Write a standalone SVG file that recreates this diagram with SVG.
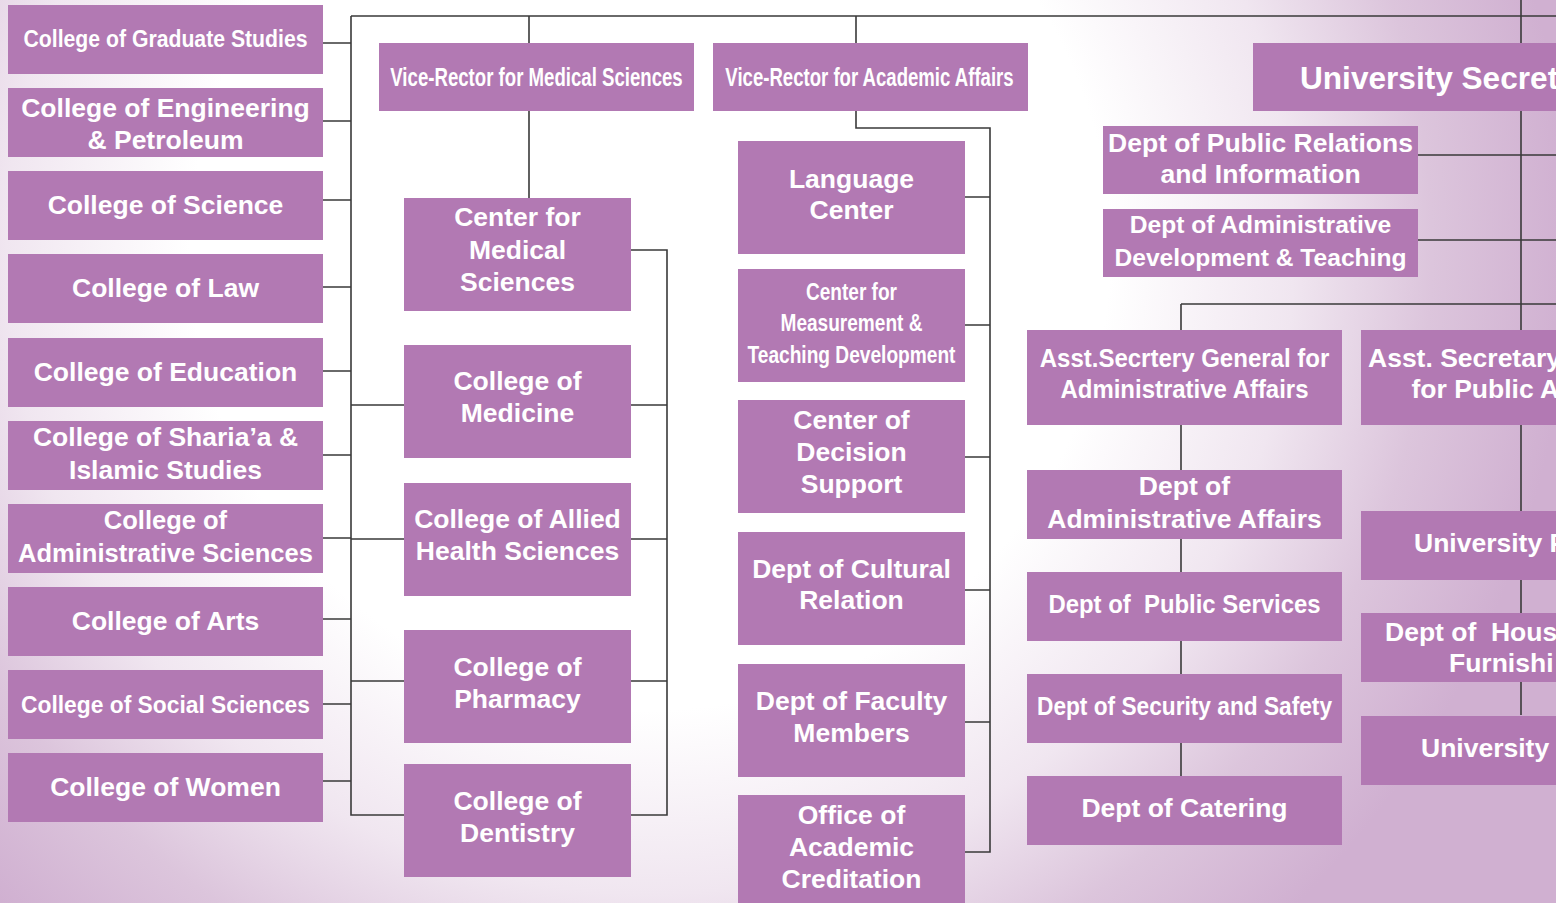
<svg xmlns="http://www.w3.org/2000/svg" width="1556" height="903" viewBox="0 0 1556 903">
<defs>
<radialGradient id="bg" gradientUnits="userSpaceOnUse" cx="650" cy="250" r="920">
<stop offset="0" stop-color="#ffffff"/>
<stop offset="0.5" stop-color="#ffffff"/>
<stop offset="0.7" stop-color="#f0e6f0"/>
<stop offset="0.85" stop-color="#dcc5dc"/>
<stop offset="1" stop-color="#d0b0d1"/>
</radialGradient>
<style>
.box{fill:#b279b3}
.t{font-family:"Liberation Sans",Arial,sans-serif;font-weight:bold;font-size:26.5px;fill:#ffffff;text-anchor:middle}
.s{text-anchor:start}
.n{font-family:"Liberation Sans Narrow","Liberation Sans",Arial,sans-serif}
.f243{font-size:24.3px}
.f245{font-size:24.5px}
.f25{font-size:25px}
.f255{font-size:25.5px}
.f316{font-size:31.6px}
.conn{stroke:#3a3a3a;stroke-width:1.6;fill:none}
</style>
</defs>
<rect x="0" y="0" width="1556" height="903" fill="url(#bg)"/>

<g id="connectors" class="conn">
<path d="M351,16 H1556 M351,16 V815 H404"/>
<path d="M323,43 H351 M323,121 H351 M323,200 H351 M323,287 H351 M323,371 H351 M323,455 H351 M323,538 H351 M323,619 H351 M323,704 H351 M323,781 H351"/>
<path d="M351,405 H404 M351,539 H404 M351,681 H404"/>
<path d="M529,16 V43 M529,111 V198"/>
<path d="M631,250 H667 V815 H631 M631,405 H667 M631,539 H667 M631,681 H667"/>
<path d="M856,16 V43 M856,111 V128 H990 V852 H965 M965,197 H990 M965,325 H990 M965,457 H990 M965,590 H990 M965,722 H990"/>
<path d="M1521,0 V715 M1418,155 H1556 M1418,240 H1556 M1181,304 H1556 M1181,304 V330 M1181,425 V470 M1181,539 V572 M1181,641 V674 M1181,743 V776"/>
</g>

<g id="college-graduate-studies"><rect class="box" x="8" y="5" width="315" height="69"/><text class="t n f243" x="165.5" y="47" textLength="284" lengthAdjust="spacingAndGlyphs">College of Graduate Studies</text></g>
<g id="college-engineering"><rect class="box" x="8" y="88" width="315" height="69"/><text class="t" x="165.5" y="116.5">College of Engineering</text><text class="t" x="165.5" y="148.5">&amp; Petroleum</text></g>
<g id="college-science"><rect class="box" x="8" y="171" width="315" height="69"/><text class="t" x="165.5" y="213.5">College of Science</text></g>
<g id="college-law"><rect class="box" x="8" y="254" width="315" height="69"/><text class="t" x="165.5" y="297">College of Law</text></g>
<g id="college-education"><rect class="box" x="8" y="338" width="315" height="69"/><text class="t" x="165.5" y="380.5">College of Education</text></g>
<g id="college-sharia"><rect class="box" x="8" y="421" width="315" height="69"/><text class="t" x="165.5" y="446">College of Sharia’a &amp;</text><text class="t" x="165.5" y="479">Islamic Studies</text></g>
<g id="college-admin-sciences"><rect class="box" x="8" y="504" width="315" height="69"/><text class="t f255" x="165.5" y="529">College of</text><text class="t f255" x="165.5" y="561.5">Administrative Sciences</text></g>
<g id="college-arts"><rect class="box" x="8" y="587" width="315" height="69"/><text class="t" x="165.5" y="629.5">College of Arts</text></g>
<g id="college-social-sciences"><rect class="box" x="8" y="670" width="315" height="69"/><text class="t n f243" x="165.5" y="712.5" textLength="289" lengthAdjust="spacingAndGlyphs">College of Social Sciences</text></g>
<g id="college-women"><rect class="box" x="8" y="753" width="315" height="69"/><text class="t" x="165.5" y="795.5">College of Women</text></g>

<g id="vr-medical"><rect class="box" x="379" y="43" width="315" height="68"/><text class="t f25" transform="translate(536.5,86) scale(0.745,1)" x="0" y="0">Vice-Rector for Medical Sciences</text></g>
<g id="vr-academic"><rect class="box" x="713" y="43" width="315" height="68"/><text class="t f25" transform="translate(869.5,86) scale(0.743,1)" x="0" y="0">Vice-Rector for Academic Affairs</text></g>

<g id="center-medical-sciences"><rect class="box" x="404" y="198" width="227" height="113"/><text class="t" x="517.5" y="226">Center for</text><text class="t" x="517.5" y="258.5">Medical</text><text class="t" x="517.5" y="290.5">Sciences</text></g>
<g id="college-medicine"><rect class="box" x="404" y="345" width="227" height="113"/><text class="t" x="517.5" y="390">College of</text><text class="t" x="517.5" y="422">Medicine</text></g>
<g id="college-allied-health"><rect class="box" x="404" y="483" width="227" height="113"/><text class="t" x="517.5" y="528">College of Allied</text><text class="t" x="517.5" y="560">Health Sciences</text></g>
<g id="college-pharmacy"><rect class="box" x="404" y="630" width="227" height="113"/><text class="t" x="517.5" y="675.5">College of</text><text class="t" x="517.5" y="707.5">Pharmacy</text></g>
<g id="college-dentistry"><rect class="box" x="404" y="764" width="227" height="113"/><text class="t" x="517.5" y="809.5">College of</text><text class="t" x="517.5" y="841.5">Dentistry</text></g>

<g id="language-center"><rect class="box" x="738" y="141" width="227" height="113"/><text class="t" x="851.5" y="187.5">Language</text><text class="t" x="851.5" y="218.5">Center</text></g>
<g id="center-measurement"><rect class="box" x="738" y="269" width="227" height="113"/><text class="t n f245" x="851.5" y="299.5" textLength="91" lengthAdjust="spacingAndGlyphs">Center for</text><text class="t n f245" x="851.5" y="331" textLength="142" lengthAdjust="spacingAndGlyphs">Measurement &amp;</text><text class="t n f245" x="851.5" y="363" textLength="208" lengthAdjust="spacingAndGlyphs">Teaching Development</text></g>
<g id="center-decision-support"><rect class="box" x="738" y="400" width="227" height="113"/><text class="t" x="851.5" y="428.5">Center of</text><text class="t" x="851.5" y="460.5">Decision</text><text class="t" x="851.5" y="492.5">Support</text></g>
<g id="dept-cultural-relation"><rect class="box" x="738" y="532" width="227" height="113"/><text class="t" x="851.5" y="577.5">Dept of Cultural</text><text class="t" x="851.5" y="609">Relation</text></g>
<g id="dept-faculty-members"><rect class="box" x="738" y="664" width="227" height="113"/><text class="t" x="851.5" y="710">Dept of Faculty</text><text class="t" x="851.5" y="742">Members</text></g>
<g id="office-academic-creditation"><rect class="box" x="738" y="795" width="227" height="113"/><text class="t" x="851.5" y="823.5">Office of</text><text class="t" x="851.5" y="855.5">Academic</text><text class="t" x="851.5" y="887.5">Creditation</text></g>

<g id="university-secretary"><rect class="box" x="1253" y="43" width="320" height="68"/><text class="t s f316" x="1300" y="89.3">University Secret</text></g>
<g id="dept-public-relations"><rect class="box" x="1103" y="126" width="315" height="68"/><text class="t" x="1260.5" y="151.7">Dept of Public Relations</text><text class="t" x="1260.5" y="183.3">and Information</text></g>
<g id="dept-admin-development"><rect class="box" x="1103" y="209" width="315" height="68"/><text class="t f245" x="1260.5" y="233.3" textLength="261.6" lengthAdjust="spacingAndGlyphs">Dept of Administrative</text><text class="t f245" x="1260.5" y="265.7" textLength="292" lengthAdjust="spacingAndGlyphs">Development &amp; Teaching</text></g>
<g id="asst-secretary-admin"><rect class="box" x="1027" y="330" width="315" height="95"/><text class="t f25" x="1184.5" y="367.3" textLength="289.6" lengthAdjust="spacingAndGlyphs">Asst.Secrtery General for</text><text class="t f25" x="1184.5" y="398.3" textLength="248" lengthAdjust="spacingAndGlyphs">Administrative Affairs</text></g>
<g id="asst-secretary-public"><rect class="box" x="1361" y="330" width="220" height="95"/><text class="t s" x="1368" y="367.3">Asst. Secretary</text><text class="t s" x="1411.5" y="398.3">for Public A</text></g>
<g id="dept-admin-affairs"><rect class="box" x="1027" y="470" width="315" height="69"/><text class="t" x="1184.5" y="495">Dept of</text><text class="t" x="1184.5" y="527.7">Administrative Affairs</text></g>
<g id="university-p"><rect class="box" x="1361" y="511" width="220" height="69"/><text class="t s" x="1414" y="551.7">University P</text></g>
<g id="dept-public-services"><rect class="box" x="1027" y="572" width="315" height="69"/><text class="t f25" x="1184.5" y="613.3" textLength="272" lengthAdjust="spacingAndGlyphs" xml:space="preserve">Dept of  Public Services</text></g>
<g id="dept-housing"><rect class="box" x="1361" y="613" width="220" height="69"/><text class="t s" x="1385" y="640.7" xml:space="preserve">Dept of  Hous</text><text class="t s" x="1449" y="671.7">Furnishi</text></g>
<g id="dept-security"><rect class="box" x="1027" y="674" width="315" height="69"/><text class="t f25" x="1184.5" y="715" textLength="295" lengthAdjust="spacingAndGlyphs">Dept of Security and Safety</text></g>
<g id="university-last"><rect class="box" x="1361" y="716" width="220" height="69"/><text class="t s" x="1421" y="756.7">University</text></g>
<g id="dept-catering"><rect class="box" x="1027" y="776" width="315" height="69"/><text class="t" x="1184.5" y="817.3">Dept of Catering</text></g>
</svg>
